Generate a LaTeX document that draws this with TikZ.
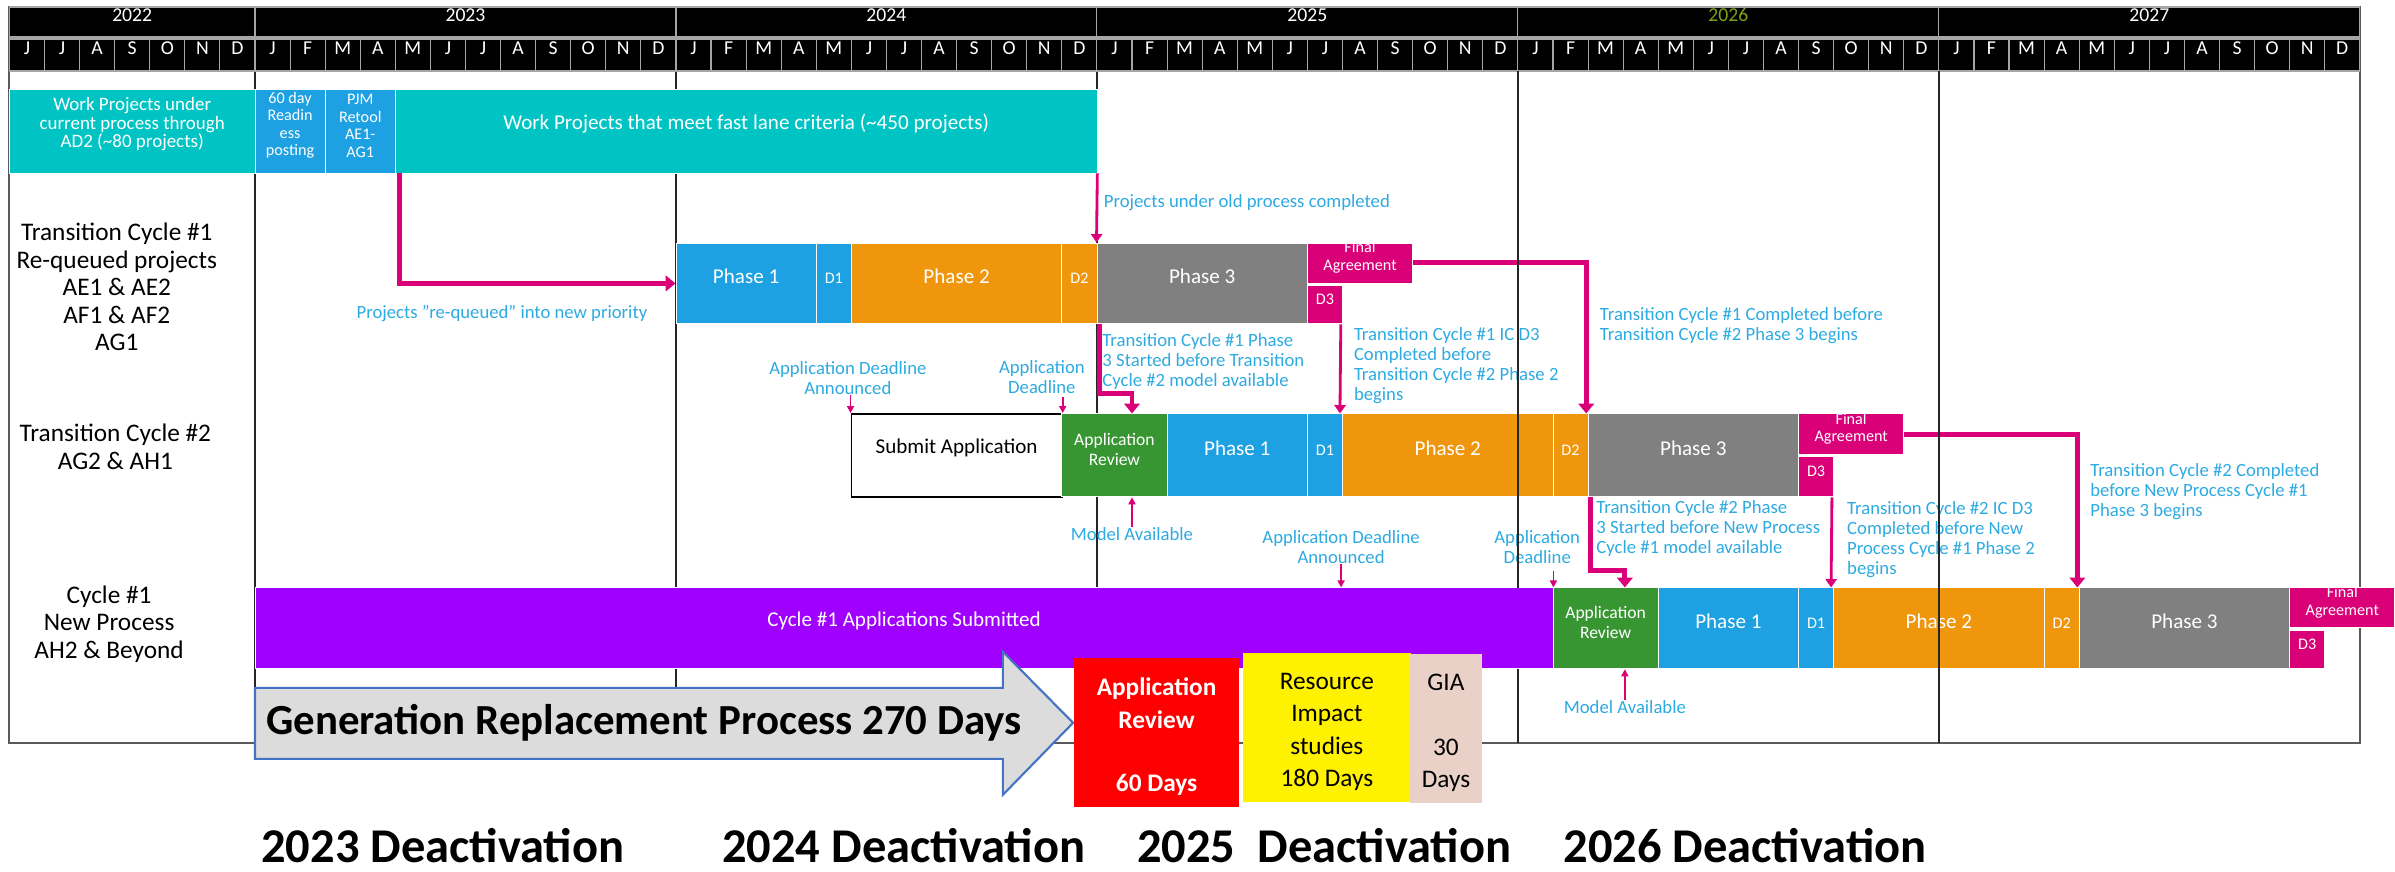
\documentclass[tikz,border=0pt]{standalone}
\usepackage{fontspec}
\setmainfont{Carlito}
\usetikzlibrary{arrows.meta,fit}

\definecolor{wpteal}{RGB}{0,196,196}
\definecolor{phblue}{RGB}{29,161,226}
\definecolor{phorange}{RGB}{239,150,12}
\definecolor{phgray}{RGB}{128,128,128}
\definecolor{famag}{RGB}{218,0,120}
\definecolor{revgreen}{RGB}{56,150,50}
\definecolor{cypurple}{RGB}{160,0,255}
\definecolor{notetxt}{RGB}{45,170,225}
\definecolor{giapink}{RGB}{234,209,200}
\definecolor{grparrow}{RGB}{220,220,220}
\definecolor{grpedge}{RGB}{68,114,196}
\definecolor{yrolive}{RGB}{130,160,20}

\begin{document}
\begin{tikzpicture}[x=0.877cm, y=-0.025cm,
    bar/.style={inner sep=0pt, draw=white, line width=0.6pt, text=white, align=center, font=\fontsize{15}{16}\selectfont},
    dbar/.style={bar, font=\fontsize{11.5}{12.5}\selectfont},
    revbar/.style={bar, fill=revgreen, font=\fontsize{12.5}{14}\selectfont},
    rowlbl/.style={align=center, inner sep=0pt, font=\fontsize{18}{19.6}\selectfont},
    note/.style={text=notetxt, align=left, inner sep=0pt, font=\fontsize{13.3}{14.2}\selectfont},
    hdr/.style={inner sep=0pt, fill=black, draw=gray!70, line width=0.8pt, text=white, font=\fontsize{14}{16}\selectfont},
    yrline/.style={line width=1.4pt, black!85},
    bigarr/.style={draw=famag, line width=3.5pt, -{Triangle[width=11pt,length=7pt]}},
    thinarr/.style={draw=famag, line width=2pt, -{Triangle[width=8pt,length=6pt]}},
    tinyarr/.style={draw=famag, line width=1.2pt, -{Triangle[width=5pt,length=5pt]}},
    dayblock/.style={inner sep=0pt, align=center, font=\fontsize{18}{23}\selectfont},
    deact/.style={anchor=base west, inner sep=0pt, font=\bfseries\fontsize{34.5}{40}\selectfont}]

\useasboundingbox (-7.269,0) rectangle (61.003,872);

% frame and year lines
\draw[black!65, line width=1.5pt] (-7,7) rectangle (60,743);
\foreach \x in {0,12,24}
    \draw[yrline] (\x,71) -- (\x,743);

% header: years
\node[hdr, fit={(-7,7) (0,37)}] (y2022) {2022};
\node[hdr, fit={(0,7) (12,37)}] (y2023) {2023};
\node[hdr, fit={(12,7) (24,37)}] (y2024) {2024};
\node[hdr, fit={(24,7) (36,37)}] (y2025) {2025};
\node[hdr, text=yrolive, fit={(36,7) (48,37)}] (y2026) {2026};
\node[hdr, fit={(48,7) (60,37)}] (y2027) {2027};

% header: months
\foreach \m [count=\i from -7] in {J,J,A,S,O,N,D}
    \node[hdr, fit={(\i,39) (\i+1,71)}] (mon\i) {\m};
\foreach \yr in {0,12,24,36,48}
    \foreach \m [count=\i from 0] in {J,F,M,A,M,J,J,A,S,O,N,D}
        \node[hdr, fit={(\yr+\i,39) (\yr+\i+1,71)}] (mon\yr-\i) {\m};

% row 1
\node[bar, fill=wpteal, font=\fontsize{13.5}{13.2}\selectfont, fit={(-7,89) (0,173)}] (cur) {Work Projects under\\current process through\\AD2 (\textasciitilde 80 projects)};
\node[dbar, fill=phblue, fit={(0,89) (2,173)}] (ready) {60 day\\Readin\\ess\\posting};
\node[dbar, fill=phblue, fit={(2,89) (4,173)}] (retool) {PJM\\Retool\\AE1-\\AG1};
\node[bar, fill=wpteal, fit={(4,89) (24,173)}] (fast) {Work Projects that meet fast lane criteria (\textasciitilde 450 projects)};

% row labels
\node[rowlbl] (lbl1) at (-3.94,287) {Transition Cycle \#1\\Re-queued projects\\AE1 \& AE2\\AF1 \& AF2\\AG1};
\node[rowlbl] (lbl2) at (-3.98,447) {Transition Cycle \#2\\AG2 \& AH1};
\node[rowlbl] (lbl3) at (-4.16,624) {Cycle \#1\\New Process\\AH2 \& Beyond};

% transition cycle 1
\node[bar, fill=phblue, fit={(12,243) (16,324)}] (t1p1) {Phase 1};
\node[dbar, fill=phblue, fit={(16,243) (17,324)}] (t1d1) {D1};
\node[bar, fill=phorange, fit={(17,243) (23,324)}] (t1p2) {Phase 2};
\node[dbar, fill=phorange, fit={(23,243) (24,324)}] (t1d2) {D2};
\node[bar, fill=phgray, fit={(24,243) (30,324)}] (t1p3) {Phase 3};
\node[dbar, fill=famag, fit={(30,243) (33,283)}] (t1fa) {Final\\Agreement};
\node[dbar, fill=famag, fit={(30,285) (31,324)}] (t1d3) {D3};

% transition cycle 2
\node[bar, fill=white, draw=black, line width=1.2pt, text=black, fit={(17,414) (23,497)}] (t2sub) {Submit Application};
\node[revbar, fit={(23,414) (26,497)}] (t2rev) {Application\\Review};
\node[bar, fill=phblue, fit={(26,414) (30,497)}] (t2p1) {Phase 1};
\node[dbar, fill=phblue, fit={(30,414) (31,497)}] (t2d1) {D1};
\node[bar, fill=phorange, fit={(31,414) (37,497)}] (t2p2) {Phase 2};
\node[dbar, fill=phorange, fit={(37,414) (38,497)}] (t2d2) {D2};
\node[bar, fill=phgray, fit={(38,414) (44,497)}] (t2p3) {Phase 3};
\node[dbar, fill=famag, fit={(44,414) (47,455)}] (t2fa) {Final\\Agreement};
\node[dbar, fill=famag, fit={(44,457) (45,497)}] (t2d3) {D3};

% new process cycle 1
\node[bar, fill=cypurple, fit={(0,588) (37,669)}] (c1sub) {Cycle \#1 Applications Submitted};
\node[revbar, fit={(37,588) (40,669)}] (c1rev) {Application\\Review};
\node[bar, fill=phblue, fit={(40,588) (44,669)}] (c1p1) {Phase 1};
\node[dbar, fill=phblue, fit={(44,588) (45,669)}] (c1d1) {D1};
\node[bar, fill=phorange, fit={(45,588) (51,669)}] (c1p2) {Phase 2};
\node[dbar, fill=phorange, fit={(51,588) (52,669)}] (c1d2) {D2};
\node[bar, fill=phgray, fit={(52,588) (58,669)}] (c1p3) {Phase 3};
\node[dbar, fill=famag, fit={(58,588) (61,628)}] (c1fa) {Final\\Agreement};
\node[dbar, fill=famag, fit={(58,631) (59,669)}] (c1d3) {D3};

% notes
\node[note, align=center] (rqtxt) at (7.04,314) {Projects "re-queued" into new priority};
\node[note, anchor=west] (oldtxt) at (24.19,203) {Projects under old process completed};
\node[note, anchor=north west] (t1p3txt) at (24.15,333) {Transition Cycle \#1 Phase\\3 Started before Transition\\Cycle \#2 model available};
\node[note, anchor=north west] (t1d3txt) at (31.32,327) {Transition Cycle \#1 IC D3\\Completed before\\Transition Cycle \#2 Phase 2\\begins};
\node[note, anchor=north west] (t1fatxt) at (38.33,307) {Transition Cycle \#1 Completed before\\Transition Cycle \#2 Phase 3 begins};
\node[note, align=center] (ada2) at (16.9,378) {Application Deadline\\Announced};
\node[note, align=center] (adl2) at (22.43,377) {Application\\Deadline};
\node[note] (mdl2) at (25,534) {Model Available};
\node[note, align=center] (ada3) at (30.96,547) {Application Deadline\\Announced};
\node[note, align=center] (adl3) at (36.55,547) {Application\\Deadline};
\node[note] (mdl3) at (39.05,707) {Model Available};
\node[note, anchor=north west] (t2p3txt) at (38.23,500) {Transition Cycle \#2 Phase\\3 Started before New Process\\Cycle \#1 model available};
\node[note, anchor=north west] (t2d3txt) at (45.38,501) {Transition Cycle \#2 IC D3\\Completed before New\\Process Cycle \#1 Phase 2\\begins};
\node[note, anchor=north west] (t2fatxt) at (52.31,463) {Transition Cycle \#2 Completed\\before New Process Cycle \#1\\Phase 3 begins};

% connectors
\draw[bigarr] ([xshift=2.5pt]retool.south east) |- (t1p1.west);
\draw[thinarr] (fast.south east) -- (t1p3.north west);
\draw[bigarr] ([xshift=2pt]t1p3.south west) -- ++(0,69) -| (mdl2.north |- t2rev.north);
\draw[thinarr] ([xshift=-1.5pt]t1d3.south east) -- ([xshift=-1.5pt]t2p2.north west);
\draw[bigarr] (t1fa.east) -| ([xshift=-1pt]t2p3.north west);
\draw[tinyarr] (ada2.south -| t2sub.north west) -- (t2sub.north west);
\draw[tinyarr] ([yshift=0.4cm]t2sub.north east) -- (t2sub.north east);
\draw[tinyarr] (mdl2.north) -- (mdl2.north |- t2rev.south);
\draw[tinyarr] (ada3.south) -- (ada3.south |- c1sub.north);
\draw[tinyarr] ([yshift=0.4cm]c1sub.north east) -- (c1sub.north east);
\draw[tinyarr] (mdl3.north) -- (mdl3.north |- c1rev.south);
\draw[bigarr] ([xshift=2pt]t2p3.south west) -- ++(0,73) -| (mdl3.north |- c1rev.north);
\draw[thinarr] ([xshift=-1.5pt]t2d3.south east) -- ([xshift=-1.5pt]c1p2.north west);
\draw[bigarr] (t2fa.east) -| ([xshift=-1pt]c1p3.north west);

% year lines in front
\draw[yrline] (36,71) -- (36,588) (36,669) -- (36,743);
\draw[yrline] (48,71) -- (48,743);

% generation replacement process
\draw[fill=grparrow, draw=grpedge, line width=1.5pt] (0,688) -- (21.32,688) -- (21.32,652) -- (23.32,723) -- (21.32,795) -- (21.32,759) -- (0,759) -- cycle;
\node[anchor=west, inner sep=0pt, font=\bfseries\fontsize{30.5}{34}\selectfont] (grp) at (0.31,723) {Generation Replacement Process 270 Days};
\node[inner sep=0pt, fill=red, fit={(23.35,658) (28.05,807)}] (revbox) {};
\node[inner sep=0pt, fill=yellow, fit={(28.16,653) (32.95,802)}] (studybox) {};
\node[inner sep=0pt, fill=giapink, fit={(32.92,654) (34.98,803)}] (giabox) {};
\node[dayblock, text=white, font=\bfseries\fontsize{18}{23}\selectfont] (revdays) at (25.70,737) {Application\\Review\\[22pt]60 Days};
\node[dayblock] (studydays) at (30.555,732) {Resource\\Impact\\studies\\180 Days};
\node[dayblock] (giadays) at (33.95,733) {GIA\\[23pt]30\\Days};

% deactivation years
\node[deact] (d2023) at (0.17,863) {2023 Deactivation};
\node[deact] (d2024) at (13.31,863) {2024 Deactivation};
\node[deact] (d2025) at (25.14,863) {2025\ \ Deactivation};
\node[deact] (d2026) at (37.29,863) {2026 Deactivation};

\end{tikzpicture}
\end{document}
